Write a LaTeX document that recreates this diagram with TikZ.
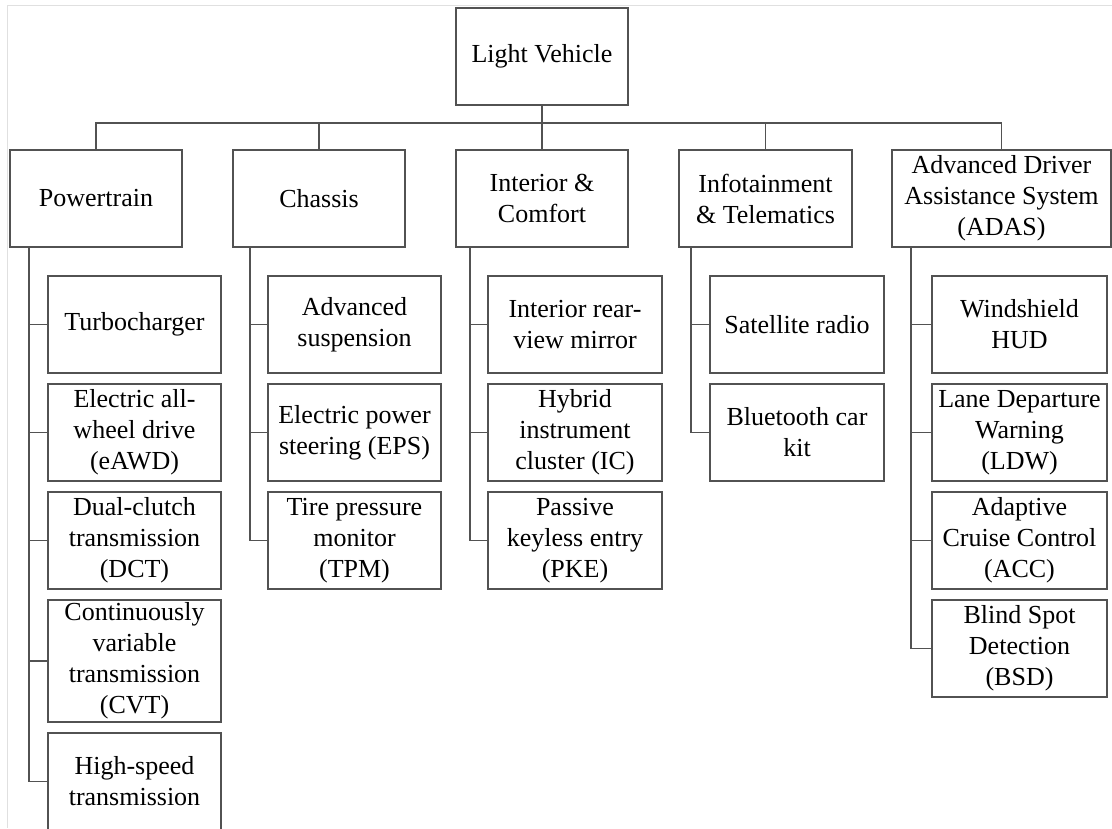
\documentclass[tikz,border=0pt]{standalone}
\usepackage{fontspec}
\setmainfont{Liberation Serif}
\begin{document}
\begin{tikzpicture}[x=1pt,y=-1pt,
  box/.style={draw=black!68, line width=1.3pt, rectangle, inner sep=0pt, align=center,
              minimum height=97pt, font=\fontsize{26}{31}\selectfont},
  topbox/.style={box, minimum width=172pt},
  subbox/.style={box, minimum width=174pt},
  link/.style={draw=black!68, line width=1.3pt}
]
\useasboundingbox (0,0) rectangle (1112,828);
\clip (0,0) rectangle (1112,828);
\fill[white] (0,0) rectangle (1112,828);
% faint frame along the top and left edges
\draw[draw=black!12, line width=1pt] (7,828) -- (7,5) -- (1112,5);

% root
\node[topbox] (root) at (542,56.5) {Light Vehicle};

% second level
\node[topbox] (pw) at (96,198.5) {Powertrain};
\node[topbox] (ch) at (319,198.5) {Chassis};
\node[topbox] (ic) at (542,198.5) {Interior \&\\Comfort};
\node[topbox, minimum width=173pt] (it) at (765.5,198.5) {Infotainment\\\& Telematics};
\node[box, minimum width=219pt] (ad) at (1001.5,198.5) {Advanced Driver\\Assistance System\\(ADAS)};

% bus between root and second level
\coordinate (bus) at (542,123);
\draw[link] (root.south) -- (bus);
\draw[link] (pw.north) -- (pw.north |- bus) -- (ad.north |- bus) -- (ad.north);
\draw[link] (ch.north) -- (ch.north |- bus);
\draw[link] (ic.north) -- (ic.north |- bus);
\draw[link] (it.north) -- (it.north |- bus);

% Powertrain children
\node[subbox, minimum width=173pt] (pw1) at (134.5,324.5) {Turbocharger};
\node[subbox, minimum width=173pt] (pw2) at (134.5,432.5) {Electric all-\\wheel drive\\(eAWD)};
\node[subbox, minimum width=173pt] (pw3) at (134.5,540.5) {Dual-clutch\\transmission\\(DCT)};
\node[subbox, minimum width=173pt, minimum height=122pt] (pw4) at (134.5,661) {Continuously\\variable\\transmission\\(CVT)};
\node[subbox, minimum width=173pt] (pw5) at (134.5,781.5) {High-speed\\transmission};

% Chassis children
\node[subbox, minimum width=173pt] (ch1) at (354.5,324.5) {Advanced\\suspension};
\node[subbox, minimum width=173pt] (ch2) at (354.5,432.5) {Electric power\\steering (EPS)};
\node[subbox, minimum width=173pt] (ch3) at (354.5,540.5) {Tire pressure\\monitor\\(TPM)};

% Interior & Comfort children
\node[subbox] (ic1) at (575,324.5) {Interior rear-\\view mirror};
\node[subbox] (ic2) at (575,432.5) {Hybrid\\instrument\\cluster (IC)};
\node[subbox] (ic3) at (575,540.5) {Passive\\keyless entry\\(PKE)};

% Infotainment & Telematics children
\node[subbox] (it1) at (797,324.5) {Satellite radio};
\node[subbox] (it2) at (797,432.5) {Bluetooth car\\kit};

% ADAS children
\node[subbox, minimum width=175pt] (ad1) at (1019.5,324.5) {Windshield\\HUD};
\node[subbox, minimum width=175pt] (ad2) at (1019.5,432.5) {Lane Departure\\Warning\\(LDW)};
\node[subbox, minimum width=175pt] (ad3) at (1019.5,540.5) {Adaptive\\Cruise Control\\(ACC)};
\node[subbox, minimum width=175pt] (ad4) at (1019.5,648.5) {Blind Spot\\Detection\\(BSD)};

% spines
\coordinate (pws) at (29,0);
\coordinate (chs) at (250,0);
\coordinate (ics) at (470,0);
\coordinate (its) at (691,0);
\coordinate (ads) at (911,0);

\draw[link] (pw.south -| pws) |- (pw5.west);
\foreach \n in {pw1,pw2,pw3,pw4} \draw[link] (\n.west) -- (\n.west -| pws);
\draw[link] (ch.south -| chs) |- (ch3.west);
\foreach \n in {ch1,ch2} \draw[link] (\n.west) -- (\n.west -| chs);
\draw[link] (ic.south -| ics) |- (ic3.west);
\foreach \n in {ic1,ic2} \draw[link] (\n.west) -- (\n.west -| ics);
\draw[link] (it.south -| its) |- (it2.west);
\draw[link] (it1.west) -- (it1.west -| its);
\draw[link] (ad.south -| ads) |- (ad4.west);
\foreach \n in {ad1,ad2,ad3} \draw[link] (\n.west) -- (\n.west -| ads);
\end{tikzpicture}
\end{document}
